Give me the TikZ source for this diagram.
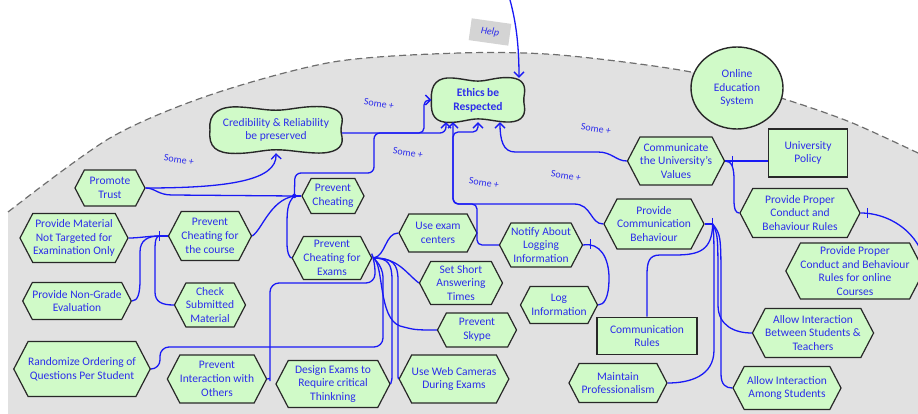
\documentclass[tikz,border=0pt]{standalone}
\usepackage{fontspec}
\setmainfont{Carlito}
\usetikzlibrary{shapes.symbols,shapes.geometric,arrows.meta}
\definecolor{txtblue}{RGB}{45,45,235}
\definecolor{lnblue}{RGB}{25,25,245}
\definecolor{nodegreen}{RGB}{208,250,200}
\definecolor{bordergray}{RGB}{40,40,40}
\definecolor{bggray}{RGB}{225,225,225}
\definecolor{dashgray}{RGB}{110,110,110}
\definecolor{helpgray}{RGB}{212,212,212}
\newcommand\pillowshape[4]{%
\begin{scope}[shift={(#1,#2)},xscale=#3,yscale=#4]
\draw[pillowline] (-1,0)
 .. controls (-1.03,-0.75) and (-0.85,-1.05) .. (-0.55,-1.0)
 .. controls (-0.3,-0.96) and (-0.18,-0.86) .. (0,-0.86)
 .. controls (0.2,-0.86) and (0.35,-1.02) .. (0.62,-1.02)
 .. controls (0.9,-1.02) and (1.03,-0.8) .. (1,-0.3)
 .. controls (0.98,-0.1) and (0.98,0.1) .. (1,0.3)
 .. controls (1.03,0.8) and (0.88,1.03) .. (0.6,1.0)
 .. controls (0.35,0.97) and (0.2,0.86) .. (0,0.86)
 .. controls (-0.2,0.86) and (-0.35,1.02) .. (-0.62,1.02)
 .. controls (-0.9,1.02) and (-1.03,0.75) .. (-1,0) -- cycle;
\end{scope}}
\begin{document}
\begin{tikzpicture}[x=1pt,y=-1pt,
  nfont/.style={font=\fontsize{11.5}{13.8}\selectfont},
  hexa/.style={shape=signal, signal to=west and east, signal pointer angle=125, draw=bordergray, line width=1.2pt, fill=nodegreen, text=txtblue, align=center, inner sep=0pt, nfont},
  boxnode/.style={rectangle, draw=bordergray, line width=1.6pt, fill=nodegreen, text=txtblue, align=center, inner sep=0pt, nfont},
  pillowtext/.style={rectangle, inner sep=0pt, text=txtblue, align=center, nfont},
  conn/.style={draw=lnblue, line width=1.3pt},
  arr/.style={conn, -{Straight Barb[length=5pt,width=10pt]}},
  barmark/.style={draw=lnblue, line width=1.3pt},
  somelbl/.style={text=txtblue, font=\fontsize{10}{12}\selectfont, rotate=-9, inner sep=0pt},
  pillowline/.style={draw=bordergray, line width=1.4pt, fill=nodegreen}
]
\useasboundingbox (0,0) rectangle (918,414);
% background region
\fill[bggray] (8,414) -- plot[smooth] coordinates {(8,212) (110,138) (210,95) (333,62) (460,53) (560,55) (691,72) (781,98) (850,122) (918,153)} -- (918,414) -- cycle;
\draw[dashgray, dash pattern=on 7pt off 4pt, line width=1.2pt] plot[smooth] coordinates {(8,212) (110,138) (210,95) (333,62) (460,53) (560,55) (691,72) (781,98) (850,122) (918,153)};

% nodes
\node[fill=helpgray, text=txtblue, rotate=-8, minimum width=40pt, minimum height=22pt, inner sep=0pt, font=\fontsize{10}{12}\selectfont\itshape] (help) at (490,32) {Help};
\pillowshape{478}{100}{46.5}{22}
\node[pillowtext, font=\fontsize{11.5}{13.8}\selectfont\bfseries, minimum width=93pt, minimum height=44pt] (eth) at (478,100) {Ethics be\\Respected};
\pillowshape{276}{130}{66}{23}
\node[pillowtext, minimum width=132pt, minimum height=46pt] (cred) at (276,130) {Credibility \& Reliability\\be preserved};
\node[ellipse, draw=bordergray, line width=1.4pt, fill=nodegreen, text=txtblue, align=center, minimum width=92pt, minimum height=82pt, inner sep=0pt, nfont] (oes) at (737,88) {Online\\Education\\System};

\node[hexa, minimum width=70pt, minimum height=36pt] (pt) at (110,188) {Promote\\Trust};
\node[hexa, minimum width=108pt, minimum height=49pt] (pm) at (74,238) {Provide Material\\Not Targeted for\\Examination Only};
\node[hexa, minimum width=102pt, minimum height=37pt] (png) at (77,301) {Provide Non-Grade\\Evaluation};
\node[hexa, minimum width=83pt, minimum height=49pt] (pcc) at (210,236) {Prevent\\Cheating for\\the course};
\node[hexa, minimum width=71pt, minimum height=44pt] (csm) at (210,305) {Check\\Submitted\\Material};
\node[hexa, minimum width=123pt, minimum height=55pt] (rand) at (82,369) {Randomize Ordering of\\Questions Per Student};
\node[hexa, minimum width=99pt, minimum height=48pt] (pio) at (217,379) {Prevent\\Interaction with\\Others};
\node[hexa, minimum width=62pt, minimum height=35pt] (pc) at (333,196) {Prevent\\Cheating};
\node[hexa, minimum width=79pt, minimum height=43pt] (pce) at (332,258) {Prevent\\Cheating for\\Exams};
\node[hexa, minimum width=114pt, minimum height=47pt] (de) at (333,384) {Design Exams to\\Require critical\\Thinkning};
\node[hexa, minimum width=78pt, minimum height=38pt] (uec) at (438,233) {Use exam\\centers};
\node[hexa, minimum width=83pt, minimum height=43pt] (sst) at (461,283) {Set Short\\Answering\\Times};
\node[hexa, minimum width=79pt, minimum height=34pt] (ps) at (477,330) {Prevent\\Skype};
\node[hexa, minimum width=98pt, minimum height=48pt] (uwc) at (454,379) {Use Web Cameras\\During Exams};
\node[hexa, minimum width=83pt, minimum height=44pt] (nal) at (541,245) {Notify About\\Logging\\Information};
\node[hexa, minimum width=77pt, minimum height=37pt] (li) at (559,305) {Log\\Information};
\node[hexa, minimum width=99pt, minimum height=50pt] (pcb) at (654,224) {Provide\\Communication\\Behaviour};
\node[boxnode, minimum width=100pt, minimum height=37pt] (cr) at (647,336) {Communication\\Rules};
\node[hexa, minimum width=98pt, minimum height=39pt] (mp) at (618,383) {Maintain\\Professionalism};
\node[hexa, minimum width=114pt, minimum height=49pt] (aib) at (813,333) {Allow Interaction\\Between Students \&\\Teachers};
\node[hexa, minimum width=108pt, minimum height=43pt] (aia) at (787,388) {Allow Interaction\\Among Students};
\node[hexa, minimum width=90pt, minimum height=48pt] (cuv) at (676,161) {Communicate\\the University's\\Values};
\node[boxnode, minimum width=79pt, minimum height=48pt] (up) at (808,153) {University\\Policy};
\node[hexa, minimum width=120pt, minimum height=49pt] (ppc) at (800,213) {Provide Proper\\Conduct and\\Behaviour Rules};
\node[hexa, minimum width=124pt, minimum height=56pt] (ppo) at (855,271) {Provide Proper\\Conduct and Behaviour\\Rules for online\\Courses};

% labels
\node[somelbl] (s1) at (179,160) {Some +};
\node[somelbl] (s2) at (379,104) {Some +};
\node[somelbl] (s3) at (408,153) {Some +};
\node[somelbl] (s4) at (484,183) {Some +};
\node[somelbl] (s5) at (596,129) {Some +};
\node[somelbl] (s6) at (566,176) {Some +};

% coordinates
\coordinate (topin) at (510,0);
\coordinate (jpc) at ([xshift=-7pt]pc.west);
\coordinate (jpcc) at ([xshift=-8pt]pcc.west);
\coordinate (jpce) at ([xshift=1pt]pce.east);
\coordinate (jpcb) at ([xshift=8pt]pcb.east);

% connectors to Ethics
\draw[arr] (topin) .. controls (516,22) and (519,45) .. ([xshift=41pt]eth.north);
\draw[arr, rounded corners=5pt] ([yshift=-3pt]cred.east) -- (424,133) -- (424,100) -- (eth.west);
\draw[conn] (pc.west) -- (jpc);
\draw[arr, rounded corners=6pt] (jpc) -- (295,173) -- (374,173) -- (374,133) -- (446,133) -- ([xshift=-32pt]eth.south);
\draw[arr] (pcb.west) .. controls (590,224) and (592,204) .. (574,204) [rounded corners=6pt] -- (453,204) -- ([xshift=-25pt]eth.south);
\draw[arr, rounded corners=5pt] (nal.west) -- (477,245) -- (477,204) -- (453,204) -- (453,132) -- (478,132) -- (eth.south);
\draw[arr] (cuv.west) .. controls (616,161) and (612,152) .. (598,152) -- (515,152) .. controls (503,152) and (500,140) .. ([xshift=22pt]eth.south);

% Promote trust
\draw[arr] (pt.east) .. controls (230,188) and (277,180) .. (cred.south);
\draw[conn] (pt.east) .. controls (155,188) and (158,195) .. (172,195) -- (jpc);
\fill[lnblue] (jpc) circle (2.2pt);

% prevent cheating
\draw[conn] (pcc.east) .. controls (262,230) and (270,200) .. (jpc);
\draw[conn] (jpc) .. controls (287,203) and (287,212) .. (287,228) -- (287,243) .. controls (287,254) and (290,258) .. (pce.west);

% course junction
\draw[conn] (pcc.west) -- (jpcc);
\draw[conn] (pm.east) .. controls (140,238) and (148,236) .. (jpcc);
\draw[conn] (png.east) .. controls (138,301) and (140,293) .. (140,280) -- (140,252) .. controls (140,240) and (148,236) .. (jpcc);
\draw[conn] (jpcc) .. controls (156,236) and (155,240) .. (155,250) -- (155,292) .. controls (155,302) and (162,305) .. (csm.west);
\draw[barmark] ([yshift=5pt]jpcc) -- ([yshift=-5pt]jpcc);

% exams junction
\draw[conn] (jpce) .. controls (386,256) and (385,233) .. (uec.west);
\draw[conn] (jpce) .. controls (398,258) and (405,272) .. (sst.west);
\draw[conn] (jpce) .. controls (384,265) and (378,318) .. (400,326) .. controls (415,330) .. (ps.west);
\draw[conn] (jpce) .. controls (388,258) and (392,264) .. (392,280) -- (392,372) .. controls (392,380) .. (de.east);
\draw[conn] (jpce) .. controls (393,258) and (398,264) .. (398,280) -- (398,370) .. controls (398,378) .. (uwc.west);
\draw[conn, rounded corners=9pt] (jpce) -- (383,268) -- (383,347) -- (160,347) -- (160,369) -- (rand.east);
\draw[conn, rounded corners=9pt] (jpce) -- (375,262) -- (375,283) -- (270,283) -- (270,372) .. controls (270,378) .. (pio.east);

% logging
\draw[conn] (nal.east) .. controls (600,242) and (609,258) .. (609,278) .. controls (609,298) and (604,305) .. (li.east);
\draw[barmark] ([xshift=7pt,yshift=6pt]nal.east) -- ([xshift=7pt,yshift=-4pt]nal.east);

% university values
\draw[conn] ([yshift=-8pt]up.west) -- (cuv.east);
\draw[barmark] ([xshift=7pt,yshift=5pt]cuv.east) -- ([xshift=7pt,yshift=-5pt]cuv.east);
\draw[conn] (cuv.east) .. controls (732,161) and (734,168) .. (734,180) -- (734,200) .. controls (734,210) and (736,213) .. (ppc.west);
\draw[conn] (ppc.east) .. controls (895,213) and (926,240) .. (ppo.east);
\draw[barmark] ([xshift=7pt,yshift=5pt]ppc.east) -- ([xshift=7pt,yshift=-5pt]ppc.east);

% communication behaviour
\draw[conn] (pcb.east) -- (jpcb);
\draw[barmark] ([yshift=6pt]jpcb) -- ([yshift=-5pt]jpcb);
\draw[conn] (jpcb) .. controls (712,250) and (700,255) .. (675,255) -- (660,255) .. controls (649,255) and (647,262) .. (647,275) -- (cr.north);
\draw[conn] (jpcb) .. controls (714,235) .. (714,290) -- (714,350) .. controls (714,376) and (690,383) .. (mp.east);
\draw[conn] (jpcb) .. controls (718,235) .. (718,290) -- (718,305) .. controls (718,326) and (735,333) .. (aib.west);
\draw[conn] (jpcb) .. controls (721,235) .. (721,290) -- (721,374) .. controls (721,385) and (726,388) .. (aia.west);
\end{tikzpicture}
\end{document}
